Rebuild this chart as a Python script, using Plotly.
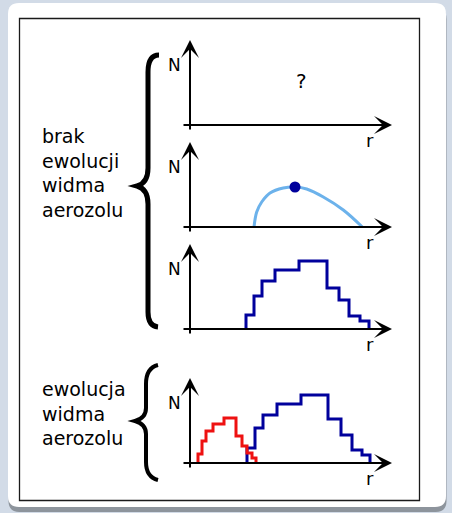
import plotly.graph_objects as go

W, H = 452, 513
FONT = "DejaVu Sans"

# Panel 2: continuous size distribution N(r) and its maximum
curve_r = [64, 66.7, 71.7, 80, 93.3, 105.3, 116.7, 133.3, 153.3, 172.3]
curve_n = [0, 15, 25, 34, 39, 40, 38, 30, 17, 0]
peak_r, peak_n = 105, 40

# Panel 3: binned spectrum (no evolution)
edges_static = [56, 64, 72, 85, 109, 137, 149, 159, 170, 179]
counts_static = [14, 33, 48, 59, 68, 41, 29, 13, 8]

# Panel 4: initial (red) and evolved (blue) binned spectra
edges_red = [8, 12, 16, 23, 34, 46, 52, 57, 62, 66]
counts_red = [9, 22, 32, 39, 45, 27, 17, 10, 5]
edges_blue = [57, 65, 73, 87, 111, 138, 151, 162, 172, 180]
counts_blue = [15, 35, 48, 59, 68, 44, 28, 13, 8]

# Text
label_top = ["brak", "ewolucji", "widma", "aerozolu"]
label_bottom = ["ewolucja", "widma", "aerozolu"]
axis_y_name, axis_x_name, unknown_mark = "N", "r", "?"

# Layout geometry (pixels on the canvas)
panel_baselines = [125, 227, 329, 463]
origin_x = 190
N_RANGE = [-20, 95]
R_RANGE = [-20, 210]

BLUE = "#00009c"
RED = "#ee1111"
LIGHT = "#6cb2eb"
BG = "#d2dbe7"


def step_xy(edges, counts):
    xs = [edges[0]] + list(edges[:-1]) + [edges[-1]]
    ys = [0] + list(counts) + [0]
    return xs, ys


fig = go.Figure()

# canvas axis (pixel coordinates) for frame, braces and side labels
fig.update_layout(
    xaxis=dict(range=[0, W], domain=[0, 1], visible=False, fixedrange=True),
    yaxis=dict(range=[H, 0], domain=[0, 1], visible=False, fixedrange=True),
)

axes_ids = []
for k, b in enumerate(panel_baselines):
    i = k + 2
    x0 = origin_x + R_RANGE[0]
    x1 = origin_x + R_RANGE[1]
    ytop = b - N_RANGE[1]
    ybot = b - N_RANGE[0]
    fig.layout[f"xaxis{i}"] = dict(range=R_RANGE, domain=[x0 / W, x1 / W],
                                   visible=False, anchor=f"y{i}", fixedrange=True)
    fig.layout[f"yaxis{i}"] = dict(range=N_RANGE, domain=[1 - ybot / H, 1 - ytop / H],
                                   visible=False, anchor=f"x{i}", fixedrange=True)
    axes_ids.append((f"x{i}", f"y{i}"))

# invisible trace on canvas so its axes are kept
fig.add_trace(go.Scatter(x=[0, W], y=[0, H], mode="markers",
                         marker=dict(opacity=0), hoverinfo="skip",
                         showlegend=False, xaxis="x", yaxis="y"))

# panel 2: smooth distribution with its maximum
xa, ya = axes_ids[1]
fig.add_trace(go.Scatter(x=curve_r, y=curve_n, mode="lines",
                         line=dict(color=LIGHT, width=3, shape="spline", smoothing=1.0),
                         showlegend=False, hoverinfo="skip", xaxis=xa, yaxis=ya))
fig.add_trace(go.Scatter(x=[peak_r], y=[peak_n], mode="markers",
                         marker=dict(color=BLUE, size=11),
                         showlegend=False, hoverinfo="skip", xaxis=xa, yaxis=ya))

# panel 3: static binned spectrum
xa, ya = axes_ids[2]
sx, sy = step_xy(edges_static, counts_static)
fig.add_trace(go.Scatter(x=sx, y=sy, mode="lines", line=dict(color=BLUE, width=3, shape="hv"),
                         showlegend=False, hoverinfo="skip", xaxis=xa, yaxis=ya))

# panel 4: evolving spectrum
xa, ya = axes_ids[3]
sx, sy = step_xy(edges_blue, counts_blue)
fig.add_trace(go.Scatter(x=sx, y=sy, mode="lines", line=dict(color=BLUE, width=3, shape="hv"),
                         showlegend=False, hoverinfo="skip", xaxis=xa, yaxis=ya))
sx, sy = step_xy(edges_red, counts_red)
fig.add_trace(go.Scatter(x=sx, y=sy, mode="lines", line=dict(color=RED, width=3, shape="hv"),
                         showlegend=False, hoverinfo="skip", xaxis=xa, yaxis=ya))

annotations = []
for xa, ya in axes_ids:
    arrow = dict(xref=xa, yref=ya, axref=xa, ayref=ya, text="", showarrow=True,
                 arrowhead=3, arrowwidth=2, arrowsize=1.5, arrowcolor="black", standoff=0)
    annotations.append(dict(arrow, x=0, y=85, ax=0, ay=-6))
    annotations.append(dict(arrow, x=202, y=0, ax=-8, ay=0))
    annotations.append(dict(xref=xa, yref=ya, x=-16, y=60, text=axis_y_name, showarrow=False,
                            font=dict(family=FONT, size=17, color="black")))
    annotations.append(dict(xref=xa, yref=ya, x=180, y=-15, text=axis_x_name, showarrow=False,
                            font=dict(family=FONT, size=18, color="black")))

xa, ya = axes_ids[0]
annotations.append(dict(xref=xa, yref=ya, x=111, y=44, text=unknown_mark, showarrow=False,
                        font=dict(family=FONT, size=20, color="black")))

annotations.append(dict(xref="x", yref="y", x=40, y=123, xanchor="left", yanchor="top",
                        align="left", text="<br>".join(label_top), showarrow=False,
                        font=dict(family=FONT, size=19, color="black")))
annotations.append(dict(xref="x", yref="y", x=40, y=376, xanchor="left", yanchor="top",
                        align="left", text="<br>".join(label_bottom), showarrow=False,
                        font=dict(family=FONT, size=19, color="black")))


def rounded_rect(x0, y0, x1, y1, r):
    return (f"M {x0+r},{y0} L {x1-r},{y0} Q {x1},{y0} {x1},{y0+r} "
            f"L {x1},{y1-r} Q {x1},{y1} {x1-r},{y1} L {x0+r},{y1} "
            f"Q {x0},{y1} {x0},{y1-r} L {x0},{y0+r} Q {x0},{y0} {x0+r},{y0} Z")


shapes = [
    dict(type="path", xref="x", yref="y", path=rounded_rect(8.5, 8, 446.5, 512, 11),
         fillcolor="#8d949c", line=dict(width=0), layer="below"),
    dict(type="path", xref="x", yref="y", path=rounded_rect(8, 3, 446, 507, 11),
         fillcolor="white", line=dict(width=0), layer="below"),
    dict(type="rect", xref="x", yref="y", x0=19.5, y0=18.5, x1=419.5, y1=500.5,
         line=dict(color="#1a1a1a", width=1.3), fillcolor="rgba(0,0,0,0)", layer="below"),
    dict(type="path", xref="x", yref="y",
         path="M 159,55 Q 148,55 148,72 L 148,168 Q 148,183 137,186 "
              "Q 148,189 148,204 L 148,312 Q 148,326 158,327",
         line=dict(color="black", width=5), layer="above"),
    dict(type="path", xref="x", yref="y",
         path="M 158,365 Q 146,368 146,384 L 146,408 Q 146,418 135,421 "
              "Q 146,424 146,434 L 146,462 Q 146,477 158,480",
         line=dict(color="black", width=4), layer="above"),
]

fig.update_layout(
    width=W, height=H, margin=dict(l=0, r=0, t=0, b=0, pad=0),
    paper_bgcolor=BG, plot_bgcolor="rgba(0,0,0,0)",
    showlegend=False, annotations=annotations, shapes=shapes,
)

fig.write_html("out.html", config=dict(displayModeBar=False))
